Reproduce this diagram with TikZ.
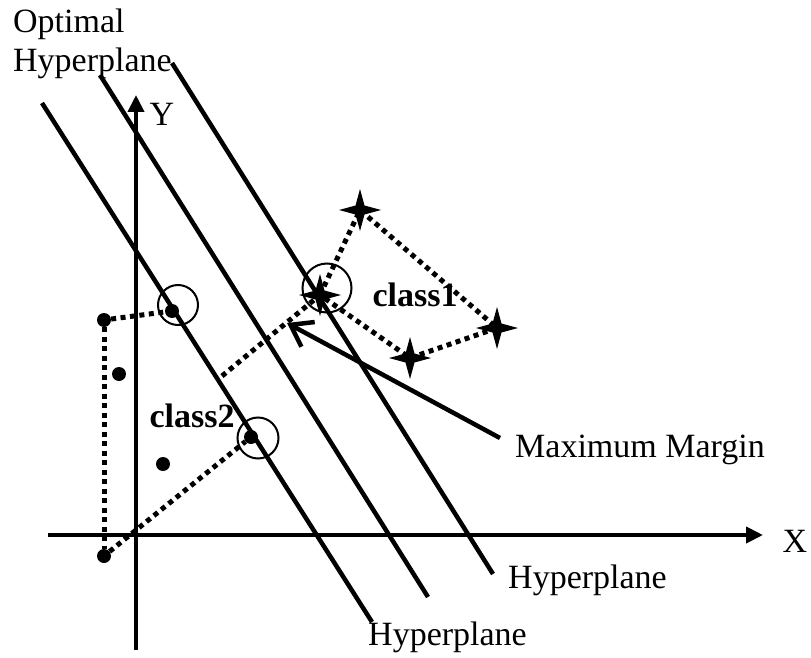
\documentclass[tikz,border=0pt]{standalone}
\usepackage{fontspec}
\setmainfont{Liberation Serif}
\usetikzlibrary{arrows.meta}
\begin{document}
\begin{tikzpicture}[x=1pt,y=-1pt,
  hyp/.style={line width=4.5pt},
  axis/.style={line width=4pt,-{Triangle[length=17pt,width=16pt]}},
  dotline/.style={line width=5pt,dash pattern=on 5pt off 4.5pt},
  ring/.style={draw,circle,line width=2pt,minimum size=#1,inner sep=0pt},
  pt/.style={circle,fill,inner sep=0pt,minimum size=14pt},
  lbl/.style={font=\fontsize{34}{39}\selectfont,inner sep=0pt},
  blbl/.style={font=\fontsize{34}{39}\selectfont\bfseries,inner sep=0pt},
  fourstar/.pic={\fill (-21,0) -- (-4.5,-4.5) -- (0,-21) -- (4.5,-4.5) -- (21,0) -- (4.5,4.5) -- (0,21) -- (-4.5,4.5) -- cycle;}
]
\useasboundingbox (0,0) rectangle (811,658);

% hyperplanes
\coordinate (h1a) at (42,103);  \coordinate (h1b) at (372,622);
\coordinate (h2a) at (100,75);  \coordinate (h2b) at (428,597);
\coordinate (h3a) at (172,63);  \coordinate (h3b) at (493,574);
\draw[hyp] (h1a) -- (h1b);
\draw[hyp] (h2a) -- (h2b);
\draw[hyp] (h3a) -- (h3b);

% axes
\coordinate (ya) at (136,650); \coordinate (yb) at (136,95);
\coordinate (xa) at (48,535);  \coordinate (xb) at (763,535);
\draw[axis] (ya) -- (yb);
\draw[axis] (xa) -- (xb);
\node[lbl] (ylab) at (162,114) {Y};
\node[lbl] (xlab) at (795,541) {X};

% class 2 points
\node[pt] (p1) at (104,320) {};
\node[pt] (p2) at (119,374) {};
\node[pt] (p3) at (163,464) {};
\node[pt] (p4) at (104,556) {};
\node[pt] (sv1) at (172,311) {};
\node[pt] (sv2) at (251,437) {};
\node[ring=40pt] (r1) at (178,305) {};
\node[ring=41pt] (r2) at (258,438) {};

% class 1 stars
\coordinate (s1) at (320,295);
\coordinate (s2) at (360,210);
\coordinate (s3) at (497,328);
\coordinate (s4) at (410,358);
\pic at (s1) {fourstar};
\pic at (s2) {fourstar};
\pic at (s3) {fourstar};
\pic at (s4) {fourstar};
\node[ring=49pt] (r3) at (327,288) {};

% dotted hulls
\draw[dotline] (p1) -- (sv1);
\draw[dotline] (p1) -- (p4);
\draw[dotline] (p4) -- (sv2);
\draw[dotline] (s1) -- (s2) -- (s3) -- (s4) -- (s1);
\coordinate (m1) at (222,376);
\draw[dotline] (m1) -- (s1);

% labels
\node[blbl] (c1) at (415,295) {class1};
\node[blbl] (c2) at (192,416) {class2};

% maximum margin arrow
\coordinate (ma) at (500,438);
\coordinate (mb) at (287,323);
\draw[line width=4.5pt,-{Straight Barb[length=20pt,width=28pt,line width=4.5pt]}] (ma) -- (mb);
\node[lbl,anchor=base west] (mm) at (515,457) {Maximum Margin};

\node[lbl,anchor=base west] (oh1) at (13,33) {Optimal};
\node[lbl,anchor=base west] (oh2) at (13,72) {Hyperplane};
\node[lbl,anchor=base west] (hp1) at (508,588) {Hyperplane};
\node[lbl,anchor=base west] (hp2) at (368,645) {Hyperplane};
\end{tikzpicture}
\end{document}
